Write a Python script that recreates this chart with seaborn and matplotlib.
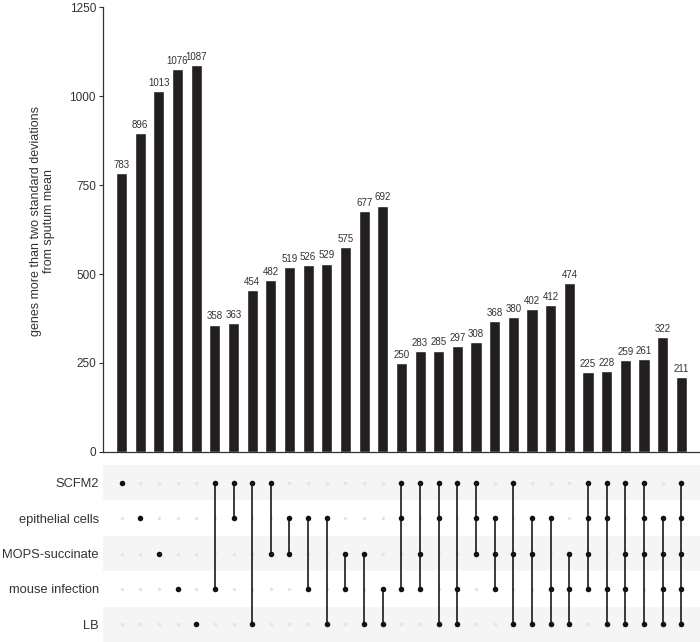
import numpy as np
import pandas as pd
import matplotlib
matplotlib.use("Agg")
import matplotlib.pyplot as plt
import seaborn as sns

sns.set_style("white")
plt.rcParams["font.family"] = ["Liberation Sans", "DejaVu Sans"]

# Sets (matrix rows, top to bottom)
sets = ["SCFM2", "epithelial cells", "MOPS-succinate", "mouse infection", "LB"]

# Intersections (one per bar) and gene counts
combos = [
    ("SCFM2",), ("epithelial cells",), ("MOPS-succinate",), ("mouse infection",), ("LB",),
    ("SCFM2", "mouse infection"), ("SCFM2", "epithelial cells"), ("SCFM2", "LB"),
    ("SCFM2", "MOPS-succinate"), ("epithelial cells", "MOPS-succinate"),
    ("epithelial cells", "mouse infection"), ("epithelial cells", "LB"),
    ("MOPS-succinate", "mouse infection"), ("MOPS-succinate", "LB"),
    ("mouse infection", "LB"),
    ("SCFM2", "epithelial cells", "mouse infection"),
    ("SCFM2", "MOPS-succinate", "mouse infection"),
    ("SCFM2", "epithelial cells", "LB"),
    ("SCFM2", "mouse infection", "LB"),
    ("SCFM2", "epithelial cells", "MOPS-succinate"),
    ("epithelial cells", "MOPS-succinate", "mouse infection"),
    ("SCFM2", "MOPS-succinate", "LB"),
    ("epithelial cells", "MOPS-succinate", "LB"),
    ("epithelial cells", "mouse infection", "LB"),
    ("MOPS-succinate", "mouse infection", "LB"),
    ("SCFM2", "epithelial cells", "MOPS-succinate", "mouse infection"),
    ("SCFM2", "epithelial cells", "mouse infection", "LB"),
    ("SCFM2", "MOPS-succinate", "mouse infection", "LB"),
    ("SCFM2", "epithelial cells", "MOPS-succinate", "LB"),
    ("epithelial cells", "MOPS-succinate", "mouse infection", "LB"),
    ("SCFM2", "epithelial cells", "MOPS-succinate", "mouse infection", "LB"),
]
counts = [783, 896, 1013, 1076, 1087,
          358, 363, 454, 482, 519, 526, 529, 575, 677, 692,
          250, 283, 285, 297, 308, 368, 380, 402, 412, 474,
          225, 228, 259, 261, 322, 211]

yticks = [0, 250, 500, 750, 1000, 1250]

n = len(combos)
pos = np.arange(n)
bar_color = "#231f20"

fig = plt.figure(figsize=(7.0, 6.42), dpi=100)
ax_bar = fig.add_axes([0.147, 0.296, 0.853, 0.693])
ax_mat = fig.add_axes([0.147, 0.0, 0.853, 0.2757])

# Bars
bars_df = pd.DataFrame({"pos": pos, "count": counts})
sns.barplot(data=bars_df, x="pos", y="count", color=bar_color, width=0.6,
            saturation=1, ax=ax_bar)
for p, c in zip(pos, counts):
    ax_bar.text(p, c + 9, str(c), ha="center", va="bottom", fontsize=7, color="#333333")
ax_bar.set_xlim(-1, n)
ax_bar.set_ylim(0, 1250)
ax_bar.set_yticks(yticks)
ax_bar.set_yticklabels([str(t) for t in yticks], fontsize=8.5, color="#333333")
ax_bar.set_xticks([])
ax_bar.set_xlabel("")
ax_bar.set_ylabel("genes more than two standard deviations\nfrom sputum mean",
                  fontsize=9, color="#333333", linespacing=1.1)
ax_bar.yaxis.set_label_coords(-0.08, 0.52)
ax_bar.tick_params(axis="y", length=3, width=0.8, color="#333333", pad=2, left=True)
for s in ["top", "right"]:
    ax_bar.spines[s].set_visible(False)
for s in ["left", "bottom"]:
    ax_bar.spines[s].set_color("#333333")
    ax_bar.spines[s].set_linewidth(0.9)

# Matrix
ax_mat.set_xlim(-1, n)
ax_mat.set_ylim(len(sets) - 0.5, -0.5)
for i in range(len(sets)):
    if i % 2 == 0:
        ax_mat.axhspan(i - 0.5, i + 0.5, color="#f5f5f5", zorder=0, lw=0)

grid = pd.DataFrame([(p, r) for p in pos for r in range(len(sets))], columns=["pos", "row"])
sns.scatterplot(data=grid, x="pos", y="row", color="#e4e4e4", s=6, linewidth=0,
                ax=ax_mat, zorder=1)

rows_on = []
for p, combo in zip(pos, combos):
    r = [sets.index(s) for s in combo]
    rows_on += [(p, ri) for ri in r]
    if len(r) > 1:
        ax_mat.vlines(p, min(r), max(r), color="#1a1a1a", lw=1.2, zorder=2)
on_df = pd.DataFrame(rows_on, columns=["pos", "row"])
sns.scatterplot(data=on_df, x="pos", y="row", color="#111111", s=16, linewidth=0,
                ax=ax_mat, zorder=3)

ax_mat.set_xticks([])
ax_mat.set_yticks(range(len(sets)))
ax_mat.set_yticklabels(sets, fontsize=9.3, color="#333333")
ax_mat.tick_params(axis="y", length=0, pad=3)
ax_mat.set_xlabel("")
ax_mat.set_ylabel("")
for s in ax_mat.spines.values():
    s.set_visible(False)

fig.savefig("out.png", dpi=100)
